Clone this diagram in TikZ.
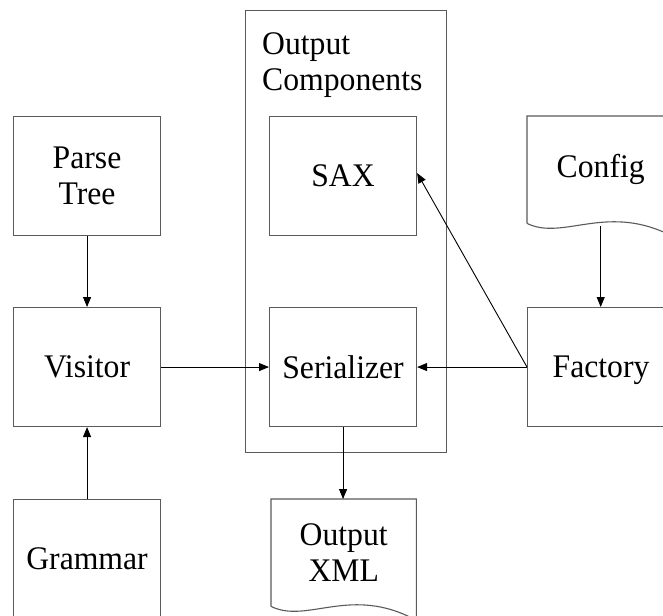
\documentclass[tikz,border=0pt]{standalone}
\usepackage{fontspec}
\setmainfont{Liberation Serif}[FakeStretch=0.96]
\usetikzlibrary{arrows.meta,calc}
\definecolor{edgegray}{HTML}{5A5A5A}
\begin{document}
\begin{tikzpicture}[x=1pt,y=-1pt,
  box/.style={draw=edgegray, line width=1.1pt, minimum width=147pt, minimum height=119pt,
              anchor=north west, inner sep=0pt},
  lbl/.style={font=\fontsize{33}{36}\selectfont, align=center},
  doc/.style={lbl, minimum width=147pt, minimum height=107pt, anchor=north west, inner sep=0pt},
  arr/.style={-{Triangle[length=10pt,width=8pt]}, line width=0.9pt, black}]
\useasboundingbox (0,0) rectangle (663,615);
\clip (0,0) rectangle (663,615);
\fill[white] (0,0) rectangle (663,615);

% container for the output components
\node[draw=edgegray, line width=1.1pt, minimum width=201pt, minimum height=442pt,
      anchor=north west, inner sep=0pt] (comp) at (245,10) {};
\node[lbl, align=left, anchor=west, inner sep=0pt] (comptitle) at (262,65) {Output\\Components};

% plain boxes
\node[box, lbl] (parse) at (13,116) {Parse\\Tree};
\node[box, lbl] (visitor) at (13,307) {Visitor};
\node[box, lbl] (grammar) at (13,499) {Grammar};
\node[box, lbl] (sax) at (269,116) {SAX};
\node[box, lbl] (serial) at (269,307) {Serializer};
\node[box, lbl, text depth=0pt] (factory) at (527,307) {Factory};

% document shapes (wavy bottom edge)
\node[doc] (config) at (527,116) {Config};
\node[doc, minimum width=145pt] (xml) at (271,499) {Output\\XML};
\foreach \d in {config, xml}{
  \draw[edgegray, line width=1.1pt]
    (\d.south west) -- (\d.north west) -- (\d.north east) -- ([yshift=-14pt]\d.south east)
    .. controls ($(\d.south west)!0.55!(\d.south east)+(0,-22)$)
            and ($(\d.south west)!0.25!(\d.south east)+(0,18)$) .. (\d.south west);
}

% connectors
\draw[arr] (parse) -- (visitor);
\draw[arr] (grammar) -- (visitor);
\draw[arr] (visitor) -- (serial);
\draw[arr] (factory.west) -- (serial.east);
\draw[arr] (factory.west) -- ([yshift=3pt]sax.east);
\draw[arr] ([yshift=-3pt]config.south) -- (factory.north -| config.south);
\draw[arr] (serial.south) -- (serial.south |- xml.north);
\end{tikzpicture}
\end{document}
